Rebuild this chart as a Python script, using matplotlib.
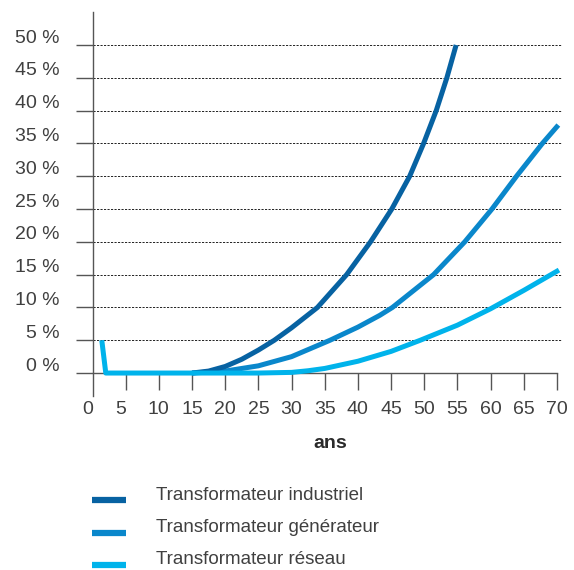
import matplotlib.pyplot as plt
from matplotlib.transforms import ScaledTranslation

plt.rcParams['font.family'] = ['Liberation Sans', 'DejaVu Sans']

# Probabilité de défaillance (%) selon l'âge (ans)
ans_industriel = [15, 17.5, 20, 22.5, 25, 27.4, 30, 33.9, 38.3, 41.9, 45.1, 47.8, 49.9, 51.8, 53.4, 54.8]
pct_industriel = [0, 0.3, 1.0, 2.1, 3.5, 5.0, 6.9, 10, 15, 20, 25, 30, 35, 40, 45, 50]

ans_generateur = [15, 20, 25, 30, 35.8, 40, 43.3, 45.2, 51.4, 56.1, 60.2, 63.9, 67.8, 70.2]
pct_generateur = [0, 0.3, 1.1, 2.5, 5.0, 7.0, 8.8, 10, 15, 20, 25, 30, 35, 37.8]

ans_reseau = [1.4, 2.0, 5, 10, 15, 20, 25, 30, 32.5, 35, 40, 45, 49.4, 55, 60, 65, 70.3]
pct_reseau = [5, 0, 0, 0, 0, 0, 0, 0.1, 0.35, 0.7, 1.8, 3.3, 5.0, 7.3, 9.8, 12.6, 15.7]

labels = ['Transformateur industriel', 'Transformateur générateur', 'Transformateur réseau']
colors = ['#0762a2', '#0a87cb', '#00b3eb']

x_ticks = list(range(0, 75, 5))
y_ticks = list(range(0, 55, 5))
y_labels = [f'{v} %' for v in y_ticks]

W, H = 574, 570
fig = plt.figure(figsize=(W / 100, H / 100), dpi=100)

# axes box in pixels: x 0..70 -> 92.5..557, y -3.5..55 -> 396..12
left, right, top, bottom = 92.5, 557, 12, 396
ax = fig.add_axes([left / W, 1 - bottom / H, (right - left) / W, (bottom - top) / H])
ax.set_xlim(0, 70)
ax.set_ylim(-3.5, 55.03)

axis_col = '#555555'
text_col = '#404040'

for s in ['top', 'right']:
    ax.spines[s].set_visible(False)
ax.spines['left'].set_color(axis_col)
ax.spines['left'].set_linewidth(1.0)
ax.spines['bottom'].set_position(('data', 0))
ax.spines['bottom'].set_color(axis_col)
ax.spines['bottom'].set_linewidth(1.0)

# dashed grid lines
ax.hlines(y_ticks[1:], 0, 70.7, colors='#222222', linestyles=(0, (2.2, 1.4)),
          linewidth=0.7, clip_on=False, zorder=1)

ax.set_yticks(y_ticks)
ax.set_yticklabels(y_labels)
ax.tick_params(axis='y', direction='out', length=12.5, width=1.0, color=axis_col,
               pad=11, labelsize=14, labelcolor=text_col)
ax.set_xticks(x_ticks)
ax.set_xticklabels([str(v) for v in x_ticks])
ax.tick_params(axis='x', direction='out', length=12, width=1.0, color=axis_col,
               pad=8, labelsize=14, labelcolor=text_col)
ax.xaxis.get_major_ticks()[0].tick1line.set_visible(False)

for lab in ax.get_yticklabels():
    lab.set_transform(lab.get_transform() + ScaledTranslation(0, 0.09, fig.dpi_scale_trans))
for i, dx in [(0, -0.05), (1, -0.05)]:
    lab = ax.get_xticklabels()[i]
    lab.set_transform(lab.get_transform() + ScaledTranslation(dx, 0, fig.dpi_scale_trans))

line_kw = dict(lw=3.6, clip_on=False, solid_capstyle='butt', solid_joinstyle='round')
ax.plot(ans_industriel, pct_industriel, color=colors[0], zorder=4, **line_kw)
ax.plot(ans_generateur, pct_generateur, color=colors[1], zorder=3, **line_kw)
ax.plot(ans_reseau, pct_reseau, color=colors[2], zorder=5, **line_kw)

fig.text(330 / W, 1 - 443 / H, 'ans', ha='center', va='center', fontsize=14,
         fontweight='bold', color='#2a2a2a')

# legend
for i, (lab, col) in enumerate(zip(labels, colors)):
    y_line = 500 + 32.5 * i
    y_text = 495 + 32 * i
    fig.add_artist(plt.Line2D([92 / W, 126 / W], [1 - y_line / H] * 2, color=col, lw=4.5,
                              solid_capstyle='butt'))
    fig.text(156 / W, 1 - y_text / H, lab, ha='left', va='center', fontsize=13.5,
             color=text_col)

fig.savefig('out.png', dpi=100)
